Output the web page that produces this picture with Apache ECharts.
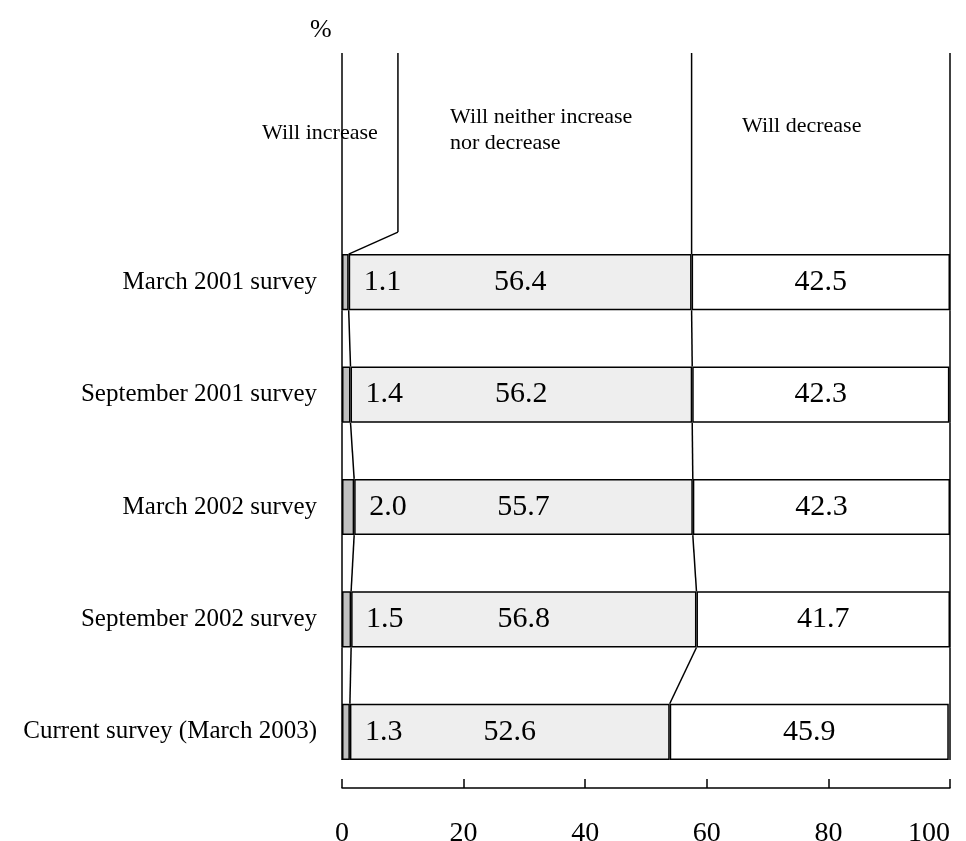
<!DOCTYPE html>
<html>
<head>
<meta charset="utf-8">
<script src="https://cdn.jsdelivr.net/npm/echarts@6/dist/echarts.min.js"></script>
<style>
  html, body { margin: 0; padding: 0; background: #fff; }
</style>
</head>
<body>
<div id="Echarts" style="width: 966px; height: 841px"></div>
<script>
// chart data
var categories = ['March 2001 survey', 'September 2001 survey', 'March 2002 survey', 'September 2002 survey', 'Current survey (March 2003)']
var increase = [1.1, 1.4, 2.0, 1.5, 1.3]
var neither = [56.4, 56.2, 55.7, 56.8, 52.6]
var decrease = [42.5, 42.3, 42.3, 41.7, 45.9]
var xTicks = [0, 20, 40, 60, 80, 100]

var FONT = 'Liberation Serif'
var myChart = echarts.init(document.getElementById('Echarts'))

// running totals for the series lines between bars
var cum1 = increase.map(function (v) { return v })
var cum2 = increase.map(function (v, i) { return v + neither[i] })
var LEADER_X = 9.2 // x (in %) of the "Will increase" leader line
var TOP_Y = 53

function fmt(p) { return p.value.toFixed(1) }

function seg(x1, y1, x2, y2) {
  return {
    type: 'line',
    shape: { x1: x1, y1: y1, x2: x2, y2: y2 },
    style: { stroke: '#000', lineWidth: 1.5 }
  }
}

// series lines and leader lines, drawn through the axes
function renderLines(params, api) {
  var i = params.dataIndex
  var n = categories.length
  var half = api.size([0, 1])[1] * 0.25
  var cy = api.coord([0, i])[1]
  var top = cy - half
  var bottom = cy + half
  var x0 = api.coord([0, i])[0]
  var x100 = api.coord([100, i])[0]
  var children = []
  var prevBottom = i === 0 ? TOP_Y : api.coord([0, i - 1])[1] + half
  children.push(seg(x0, prevBottom, x0, bottom))
  children.push(seg(x100, prevBottom, x100, bottom))
  if (i === 0) {
    var xb = api.coord([cum2[0], 0])[0]
    children.push(seg(xb, TOP_Y, xb, top))
    var xl = api.coord([LEADER_X, 0])[0]
    var xc = api.coord([cum1[0], 0])[0]
    children.push(seg(xl, TOP_Y, xl, top - 22))
    children.push(seg(xl, top - 22, xc, top))
  }
  if (i < n - 1) {
    var nextTop = api.coord([0, i + 1])[1] - half
    children.push(seg(api.coord([cum1[i], i])[0], bottom, api.coord([cum1[i + 1], i + 1])[0], nextTop))
    children.push(seg(api.coord([cum2[i], i])[0], bottom, api.coord([cum2[i + 1], i + 1])[0], nextTop))
  }
  return { type: 'group', children: children }
}

var barStyle = function (color) {
  return { color: color, borderColor: '#000', borderWidth: 1.5 }
}

var option = {
  animation: false,
  backgroundColor: '#fff',
  textStyle: { fontFamily: FONT, color: '#000' },
  title: {
    text: '%',
    left: 305,
    top: 12,
    textStyle: { fontFamily: FONT, fontSize: 26, fontWeight: 'normal', color: '#000' }
  },
  graphic: [
    { type: 'text', left: 262, top: 122, style: { text: 'Will increase', font: '22px "Liberation Serif"', fill: '#000' } },
    { type: 'text', left: 450, top: 104, style: { text: 'Will neither increase\nnor decrease', font: '22px "Liberation Serif"', fill: '#000', lineHeight: 26 } },
    { type: 'text', left: 742, top: 115, style: { text: 'Will decrease', font: '22px "Liberation Serif"', fill: '#000' } }
  ],
  grid: { left: 342, right: 16, top: 226, bottom: 53, containLabel: false, outerBoundsMode: 'none' },
  xAxis: {
    type: 'value',
    min: xTicks[0],
    max: xTicks[xTicks.length - 1],
    interval: xTicks[1] - xTicks[0],
    axisLine: { show: true, lineStyle: { color: '#000', width: 1.5 } },
    axisTick: { show: true, inside: true, length: 9, lineStyle: { color: '#000', width: 1.5 } },
    axisLabel: { margin: 32, fontSize: 28, fontFamily: FONT, color: '#000', alignMaxLabel: 'right' },
    splitLine: { show: false }
  },
  yAxis: {
    type: 'category',
    inverse: true,
    data: categories,
    axisLine: { show: false },
    axisTick: { show: false },
    axisLabel: { margin: 25, fontSize: 25, fontFamily: FONT, color: '#000' }
  },
  series: [
    {
      name: 'Will increase',
      type: 'bar',
      stack: 'total',
      barWidth: '50%',
      itemStyle: barStyle('#c0c0c0'),
      label: { show: true, position: 'right', distance: 15, formatter: fmt, fontSize: 30, fontFamily: FONT, color: '#000' },
      data: increase
    },
    {
      name: 'Will neither increase nor decrease',
      type: 'bar',
      stack: 'total',
      itemStyle: barStyle('#eeeeee'),
      label: { show: true, position: 'inside', formatter: fmt, fontSize: 30, fontFamily: FONT, color: '#000' },
      data: neither
    },
    {
      name: 'Will decrease',
      type: 'bar',
      stack: 'total',
      itemStyle: barStyle('#ffffff'),
      label: { show: true, position: 'inside', formatter: fmt, fontSize: 30, fontFamily: FONT, color: '#000' },
      data: decrease
    },
    {
      type: 'custom',
      renderItem: renderLines,
      clip: false,
      silent: true,
      z: 5,
      encode: { x: 0, y: 1 },
      data: categories.map(function (c, i) { return [0, i] })
    }
  ]
}

myChart.setOption(option)
</script>
</body>
</html>
